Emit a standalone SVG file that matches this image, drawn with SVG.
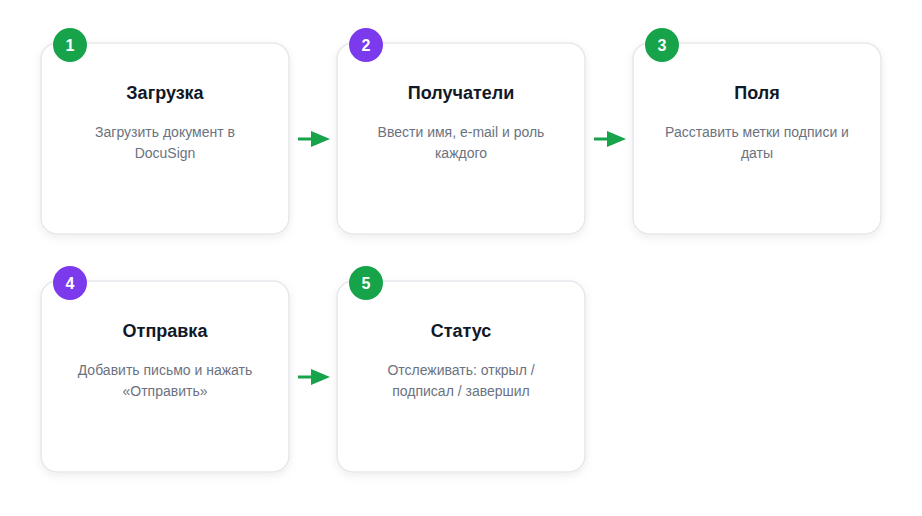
<svg xmlns="http://www.w3.org/2000/svg" width="922" height="516" viewBox="0 0 922 516">
<defs>
<filter id="sh" x="-20%" y="-20%" width="140%" height="150%">
<feDropShadow dx="0" dy="3" stdDeviation="4" flood-color="#000" flood-opacity="0.07"/>
</filter>
<marker id="ah" markerWidth="19" markerHeight="16" refX="0" refY="8" orient="auto" markerUnits="userSpaceOnUse">
<path d="M0,0 L19,8 L0,16 Z" fill="#16a34a"/>
</marker>
<style>
.card{fill:#fff;stroke:#e5e7eb;stroke-width:1.5;filter:url(#sh)}
.t{font-family:"Liberation Sans",Arial,sans-serif;font-size:18px;font-weight:bold;fill:#111827;text-anchor:middle}
.d{font-family:"Liberation Sans",Arial,sans-serif;font-size:14px;fill:#6b7280;text-anchor:middle}
.n{font-family:"Liberation Sans",Arial,sans-serif;font-size:16px;font-weight:bold;fill:#fff;text-anchor:middle}
.g{fill:#16a34a}.p{fill:#7c3aed}
.c{stroke:#16a34a;stroke-width:3;fill:none}
</style>
</defs>
<rect width="922" height="516" fill="#fff"/>
<g id="connectors">
<line class="c" x1="298" y1="139" x2="311" y2="139" marker-end="url(#ah)"/>
<line class="c" x1="594" y1="139" x2="607" y2="139" marker-end="url(#ah)"/>
<line class="c" x1="298" y1="377" x2="311" y2="377" marker-end="url(#ah)"/>
</g>
<g id="node1">
<rect class="card" x="41" y="43" width="248" height="191" rx="16"/>
<circle class="g" cx="70" cy="45" r="17"/>
<text class="n" x="70" y="51">1</text>
<text class="t" x="165" y="99">Загрузка</text>
<text class="d" x="165" y="137">Загрузить документ в</text>
<text class="d" x="165" y="158">DocuSign</text>
</g>
<g id="node2">
<rect class="card" x="337" y="43" width="248" height="191" rx="16"/>
<circle class="p" cx="366" cy="45" r="17"/>
<text class="n" x="366" y="51">2</text>
<text class="t" x="461" y="99">Получатели</text>
<text class="d" x="461" y="137">Ввести имя, e-mail и роль</text>
<text class="d" x="461" y="158">каждого</text>
</g>
<g id="node3">
<rect class="card" x="633" y="43" width="248" height="191" rx="16"/>
<circle class="g" cx="662" cy="45" r="17"/>
<text class="n" x="662" y="51">3</text>
<text class="t" x="757" y="99">Поля</text>
<text class="d" x="757" y="137">Расставить метки подписи и</text>
<text class="d" x="757" y="158">даты</text>
</g>
<g id="node4">
<rect class="card" x="41" y="281" width="248" height="191" rx="16"/>
<circle class="p" cx="70" cy="283" r="17"/>
<text class="n" x="70" y="289">4</text>
<text class="t" x="165" y="337">Отправка</text>
<text class="d" x="165" y="375">Добавить письмо и нажать</text>
<text class="d" x="165" y="396">«Отправить»</text>
</g>
<g id="node5">
<rect class="card" x="337" y="281" width="248" height="191" rx="16"/>
<circle class="g" cx="366" cy="283" r="17"/>
<text class="n" x="366" y="289">5</text>
<text class="t" x="461" y="337">Статус</text>
<text class="d" x="461" y="375">Отслеживать: открыл /</text>
<text class="d" x="461" y="396">подписал / завершил</text>
</g>
</svg>
